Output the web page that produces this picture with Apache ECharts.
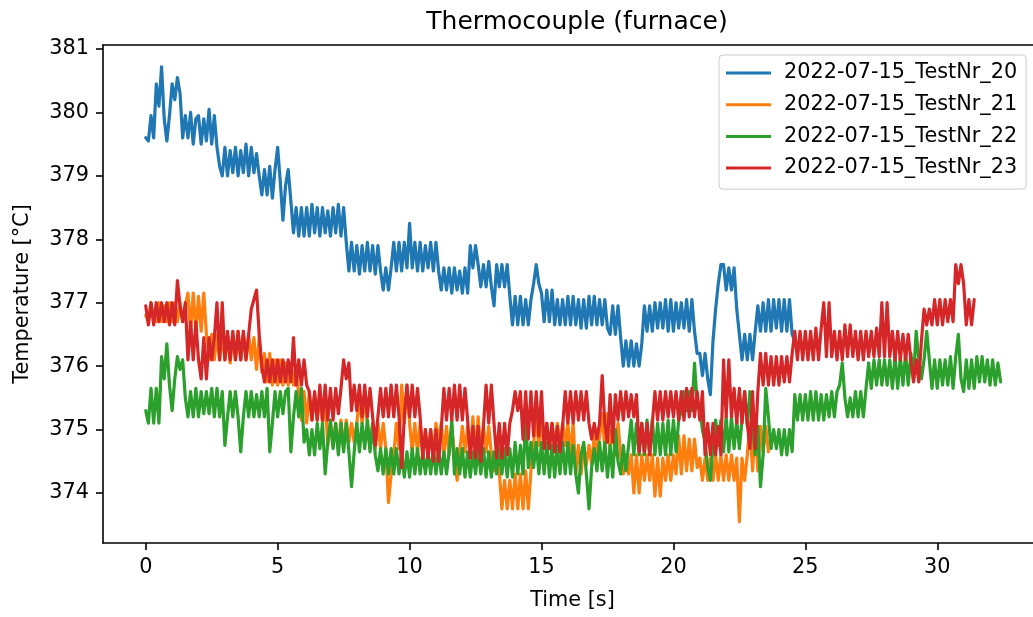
<!DOCTYPE html>
<html>
<head>
<meta charset="utf-8">
<script src="https://cdn.jsdelivr.net/npm/echarts@6/dist/echarts.min.js"></script>
<style>
html,body{margin:0;padding:0;background:#fff;}
#chart{width:1033px;height:617px;}
</style>
</head>
<body>
<div id="chart"></div>
<script>
// Sampling interval of the series [s]
const DT = 0.1;
const seriesNames = ['2022-07-15_TestNr_20','2022-07-15_TestNr_21','2022-07-15_TestNr_22','2022-07-15_TestNr_23'];
const xTicks = [0, 5, 10, 15, 20, 25, 30];
const yTicks = [374, 375, 376, 377, 378, 379, 380, 381];

const test20 = [
379.6,379.55,379.95,379.6,380.45,380.1,380.72,379.9,379.55,379.95,
380.45,380.2,380.55,380.3,379.6,379.95,379.6,380.0,379.5,379.9,
379.95,379.5,379.9,379.55,380.05,379.5,379.95,379.45,379.15,379.0,
379.45,379.0,379.4,379.05,379.45,379.0,379.4,379.05,379.5,379.0,
379.45,379.05,379.35,379.0,378.7,379.1,378.7,379.15,378.65,379.1,
379.45,378.9,378.3,378.85,379.1,378.6,378.1,378.5,378.05,378.5,
378.05,378.5,378.05,378.55,378.1,378.5,378.05,378.5,378.1,378.45,
378.05,378.5,378.1,378.55,378.05,378.5,377.95,377.5,377.95,377.5,
377.9,377.45,377.9,377.5,377.95,377.5,377.9,377.45,377.9,377.5,
377.2,377.55,377.2,377.55,377.95,377.5,377.95,377.5,377.95,377.55,
378.25,377.55,377.95,377.5,377.95,377.5,377.9,377.55,377.95,377.5,
377.95,377.5,377.2,377.55,377.2,377.55,377.15,377.55,377.2,377.5,
377.15,377.55,377.15,377.9,377.55,377.9,377.6,377.25,377.6,377.25,
377.65,377.25,376.95,377.6,377.25,377.6,377.25,377.6,377.1,376.65,
377.1,376.65,377.1,376.65,377.05,376.65,377.05,377.3,377.6,377.3,
377.15,376.7,377.2,376.7,377.2,376.65,377.05,376.65,377.05,376.65,
377.1,376.65,377.1,376.65,377.05,376.6,377.05,376.6,377.1,376.65,
377.1,376.65,377.05,376.65,377.05,376.6,376.5,376.95,376.5,376.95,
376.45,376.0,376.4,376.0,376.4,376.0,376.35,376.0,376.35,376.95,
376.55,376.95,376.55,377.0,376.6,377.0,376.6,377.05,376.55,377.05,
376.55,377.0,376.6,377.0,376.6,377.05,376.55,377.05,376.55,376.2,
376.2,375.85,376.2,375.8,375.55,376.4,376.9,377.3,377.6,377.6,
377.2,377.55,377.2,377.55,376.9,376.5,376.1,376.5,376.1,376.5,
376.1,376.55,376.95,376.55,377.0,376.55,377.05,376.55,377.05,376.6,
377.05,376.55,377.05,376.55,377.05,376.5,376.4
];

const test21 = [
376.8,376.7,377.0,376.75,376.7,377.0,376.7,376.95,376.7,377.0,
376.7,377.0,376.7,377.0,376.7,376.95,377.15,376.55,377.15,376.55,
377.1,376.55,377.15,376.5,376.1,376.5,376.1,376.5,376.1,376.5,
376.1,376.5,376.05,376.5,376.1,376.55,376.1,376.5,376.1,376.5,
376.1,376.45,375.95,376.45,375.9,376.2,375.75,376.2,375.7,376.1,
375.7,376.1,375.7,376.05,375.7,376.05,375.7,376.0,375.55,375.15,
375.6,375.1,375.6,375.15,375.55,375.15,375.55,375.1,375.5,374.75,
375.1,374.75,375.1,374.7,375.15,374.7,375.15,374.8,375.1,374.8,
375.1,375.5,375.1,375.5,375.1,374.7,375.1,374.7,375.1,374.7,
375.1,374.7,373.85,374.3,374.6,375.1,374.7,375.7,375.1,375.7,
375.1,374.65,375.1,374.65,375.1,374.6,375.0,374.6,375.0,374.6,
375.1,374.8,375.1,374.6,375.05,374.6,375.05,374.6,374.2,374.65,
375.05,374.65,375.05,374.6,375.2,374.6,375.2,374.65,375.05,374.65,
375.05,374.6,374.35,374.6,374.35,373.75,374.2,373.75,374.2,373.75,
374.3,373.75,374.3,373.75,374.35,373.75,374.35,374.8,375.15,374.75,
375.1,374.75,375.1,374.7,375.1,374.7,375.1,374.75,375.1,374.75,
375.1,374.6,375.1,374.3,374.75,374.3,374.75,374.45,374.75,374.45,
374.9,374.6,374.9,375.25,374.7,375.25,374.7,375.1,374.6,375.1,
374.6,374.3,374.6,374.3,374.6,374.0,374.6,374.0,374.6,374.2,
374.6,374.2,374.6,373.95,374.55,373.95,374.55,374.2,374.6,374.2,
374.6,374.3,374.9,374.3,374.9,374.35,374.85,374.35,374.85,374.4,
374.55,374.2,374.55,374.2,374.55,374.2,374.6,374.2,374.6,374.2,
374.6,374.2,374.6,374.2,374.55,373.55,374.55,374.2,374.6,375.1,
374.35,375.1,374.35,375.05,374.65,375.05,374.65
];

const test22 = [
375.3,375.1,375.65,375.1,375.65,375.1,376.15,375.8,376.35,375.7,
375.3,375.8,376.15,375.95,376.1,375.5,375.2,375.6,375.2,375.65,
375.2,375.6,375.25,375.6,375.25,375.65,375.2,375.65,375.2,375.6,
374.75,375.2,375.6,375.2,375.6,375.2,374.65,375.2,375.6,375.2,
375.6,375.2,375.55,375.2,375.6,375.2,375.65,374.65,375.1,375.6,
375.2,375.6,375.25,375.6,375.65,374.65,375.2,375.6,375.2,375.65,
374.8,375.0,374.6,375.0,374.6,375.1,374.7,375.1,374.3,374.8,
375.15,374.7,375.1,374.6,375.1,374.65,375.1,374.65,374.1,374.65,
375.1,374.65,375.1,374.7,375.15,374.65,375.1,374.6,374.35,374.7,
374.3,374.7,374.3,374.7,374.3,374.7,374.3,374.65,374.25,374.65,
374.25,374.7,374.3,374.7,374.3,374.65,374.3,374.65,374.3,374.7,
374.3,374.7,374.3,374.65,374.3,374.65,375.15,374.3,374.7,374.3,
374.7,374.25,374.65,374.25,374.65,374.3,374.7,374.3,374.7,374.25,
374.65,374.25,374.65,374.3,374.7,374.3,374.7,374.25,374.7,374.25,
374.8,374.3,374.75,374.3,375.15,374.4,374.8,374.4,374.8,374.3,
374.8,374.3,374.8,374.25,374.75,374.25,374.75,374.3,374.8,374.3,
374.8,374.3,374.75,374.3,374.0,374.6,374.8,374.3,373.75,374.4,
374.7,374.35,374.8,374.35,374.8,374.25,374.75,374.25,375.0,374.5,
374.3,374.75,374.35,374.75,375.15,374.6,375.1,374.6,375.1,374.6,
375.15,374.6,375.15,374.6,375.1,374.6,375.1,374.6,375.15,374.6,
375.15,374.65,375.15,375.3,375.6,375.3,375.6,375.3,376.05,375.4,
375.3,375.0,374.8,374.4,374.2,374.75,375.15,374.75,375.15,374.65,
375.2,374.65,375.2,374.7,375.15,374.7,375.15,375.6,375.05,375.6,
375.05,374.6,375.05,374.1,374.6,375.65,375.2,374.7,375.0,374.7,
375.0,374.6,375.0,374.6,375.0,374.65,375.55,375.15,375.55,375.15,
375.55,375.15,375.6,375.15,375.6,375.15,375.55,375.15,375.55,375.2,
375.6,375.2,375.6,375.7,376.05,375.5,375.2,375.5,375.2,375.6,
375.2,375.6,375.2,375.65,376.05,375.65,376.1,375.7,376.1,375.7,
376.1,375.7,376.1,375.65,376.15,375.65,376.15,375.7,376.2,375.7,
376.2,375.8,376.55,376.1,375.8,376.1,376.55,376.1,375.65,376.1,
375.65,376.1,375.7,376.1,375.7,376.15,375.65,376.15,376.5,375.8,
375.6,376.1,375.65,376.1,375.65,376.15,375.75,376.15,375.75,376.1,
375.7,376.1,375.7,376.05,375.75
];

const test23 = [
376.95,376.65,377.0,376.65,377.0,376.7,377.0,376.7,377.0,376.65,
377.0,376.65,377.35,376.95,376.7,377.0,376.1,376.7,376.1,376.7,
376.1,375.8,376.45,375.8,376.45,376.1,376.45,377.0,376.1,377.0,
376.1,376.55,376.1,376.55,376.1,376.55,376.1,376.55,376.1,376.5,
376.9,377.05,377.2,376.5,376.0,375.75,376.1,375.75,376.1,375.75,
376.1,375.75,376.1,375.75,376.1,375.75,376.45,375.7,376.1,375.7,
376.1,375.7,375.6,375.15,375.6,375.15,375.7,375.15,375.7,375.15,
375.65,375.15,375.65,375.25,375.65,376.1,375.8,376.05,375.3,375.7,
375.3,375.7,375.2,375.7,375.2,375.65,375.2,374.75,375.2,375.65,
375.2,375.65,375.2,375.7,375.2,375.7,375.2,374.4,375.2,375.7,
375.2,375.7,375.2,375.65,375.2,374.55,375.0,374.55,375.0,374.5,
375.0,374.5,375.0,375.65,375.15,375.65,375.15,375.7,375.15,375.7,
375.15,375.65,375.15,374.55,375.05,374.55,375.05,374.5,375.05,375.7,
375.1,375.7,375.1,374.55,375.1,374.55,375.1,374.6,375.1,375.3,
375.6,375.3,375.6,374.85,375.6,374.85,375.6,374.9,375.6,374.9,
375.6,374.7,375.1,374.7,375.1,374.65,375.05,374.65,375.05,375.6,
375.1,375.6,375.1,375.6,375.15,375.6,375.15,375.6,375.1,374.85,
375.1,374.85,375.1,375.85,375.1,374.8,375.55,374.8,375.55,375.15,
375.6,375.15,375.6,375.2,375.55,375.2,375.55,374.65,375.1,374.65,
375.1,374.6,375.1,375.6,375.15,375.6,375.15,375.6,375.2,375.6,
375.2,375.6,375.15,375.6,375.15,375.65,375.2,375.65,375.2,375.6,
375.15,375.6,374.6,375.1,374.6,375.1,374.6,375.05,374.6,376.1,
375.2,376.1,375.2,375.65,375.1,375.65,375.1,375.6,375.1,374.7,
375.6,374.7,375.6,376.2,375.7,376.2,375.7,376.15,375.7,376.15,
375.7,376.15,375.75,376.15,375.75,376.2,376.55,376.1,376.55,376.1,
376.55,376.1,376.55,376.1,376.6,376.1,376.6,377.0,376.15,377.0,
376.15,376.55,376.1,376.55,376.1,376.65,376.15,376.65,376.15,376.55,
376.1,376.55,376.1,376.55,376.15,376.55,376.15,376.6,376.15,377.0,
376.15,377.0,376.15,376.55,376.1,376.55,376.1,376.5,376.1,376.5,
376.1,375.75,376.1,375.75,376.4,376.9,376.65,376.9,376.65,377.05,
376.65,377.05,376.65,377.05,376.7,377.05,376.7,377.6,377.3,377.6,
377.3,376.65,377.05,376.65,377.05
];

const colors = ['#1f77b4','#ff7f0e','#2ca02c','#d62728'];
const allValues = [test20, test21, test22, test23];

function toPairs(vals){ return vals.map((v,i)=>[Math.round(i*DT*100)/100, v]); }

const FONT = 'DejaVu Sans';
const X_MIN = -1.62, X_MAX = 33.97;
const chart = echarts.init(document.getElementById('chart'), null, {renderer:'canvas'});
chart.setOption({
  animation:false,
  backgroundColor:'#ffffff',
  title:{
    text:'Thermocouple (furnace)',
    left:572, top:5, textAlign:'center',
    textStyle:{fontFamily:FONT, fontSize:25, fontWeight:'normal', color:'#000'}
  },
  legend:{
    orient:'vertical',
    left:719, top:55,
    padding:[7,9,10,7],
    itemGap:9.7,
    itemWidth:45, itemHeight:3,
    icon:'rect',
    backgroundColor:'rgba(255,255,255,0.8)',
    borderColor:'#cccccc', borderWidth:1, borderRadius:4,
    textStyle:{fontFamily:FONT, fontSize:20.8, color:'#000', lineHeight:22, padding:[0,0,0,8]},
    data:seriesNames
  },
  grid:{
    left:103, top:45, width:939, height:498,
    outerBoundsMode:'none',
    show:false
  },
  xAxis:[{
    type:'value', min:X_MIN, max:X_MAX,
    name:'Time [s]', nameLocation:'middle', nameGap:47,
    nameTextStyle:{fontFamily:FONT, fontSize:20.8, color:'#000'},
    axisLine:{onZero:false, lineStyle:{color:'#000', width:1.6}},
    axisTick:{show:true, length:7, lineStyle:{color:'#000', width:1.6}, customValues:xTicks},
    axisLabel:{fontFamily:FONT, fontSize:20.8, color:'#000', margin:14, customValues:xTicks},
    splitLine:{show:false}
  },{
    type:'value', min:X_MIN, max:X_MAX, position:'top',
    axisLine:{show:true, onZero:false, lineStyle:{color:'#000', width:1.6}},
    axisTick:{show:false}, axisLabel:{show:false}, splitLine:{show:false}
  }],
  yAxis:{
    type:'value', min:373.212, max:381.063,
    name:'Temperature [°C]', nameLocation:'middle', nameGap:70,
    nameTextStyle:{fontFamily:FONT, fontSize:20.8, color:'#000'},
    axisLine:{onZero:false, lineStyle:{color:'#000', width:1.6}},
    axisTick:{show:true, length:7, lineStyle:{color:'#000', width:1.6}, customValues:yTicks},
    axisLabel:{fontFamily:FONT, fontSize:20.8, color:'#000', margin:14, customValues:yTicks},
    splitLine:{show:false}
  },
  series: seriesNames.map((n,k)=>({
    name:n, type:'line', data:toPairs(allValues[k]), xAxisIndex:0,
    showSymbol:false, symbol:'none',
    lineStyle:{color:colors[k], width:3.2, join:'round', cap:'round'},
    itemStyle:{color:colors[k]},
    emphasis:{disabled:true},
    z:2+k
  }))
});
</script>
</body>
</html>
